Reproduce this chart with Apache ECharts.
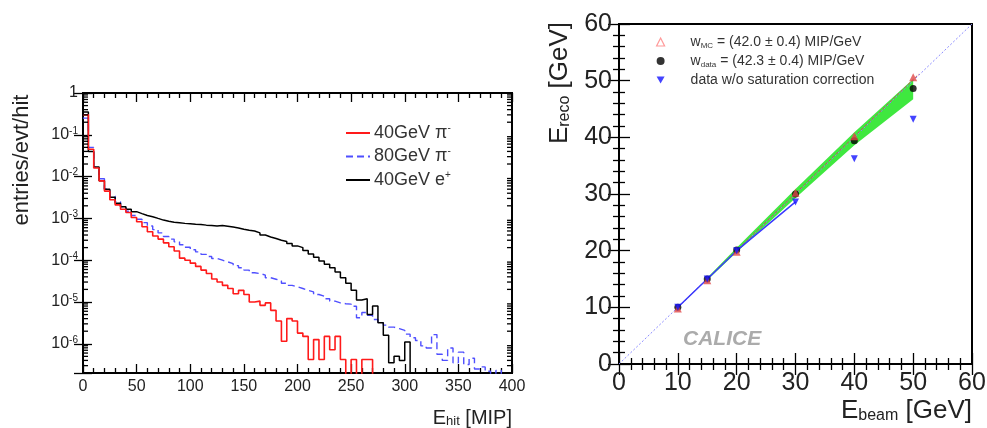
<!DOCTYPE html>
<html><head><meta charset="utf-8">
<script src="https://cdn.jsdelivr.net/npm/echarts@6/dist/echarts.min.js"></script>
<style>html,body{margin:0;padding:0;background:#fff}#c{width:987px;height:428px}</style>
</head><body><div id="c"></div>
<script>
// ---------- Left panel: hit energy spectra (entries/evt/hit), 5-MIP bins starting at 0 ----------
const BIN_WIDTH = 5;
const X_MAX = 400;
const piMinus40 = [
  0.3,0.045,0.016,0.0079,0.0045,0.0028,0.0021,0.00166,0.00138,0.00105,
  0.00083,0.00063,0.00048,0.00038,0.00032,0.00026,0.00021,0.000166,0.000112,0.0001,
  0.000085,0.000071,0.000058,0.000048,0.0000355,0.00003,0.000025,0.000021,0.0000158,0.000019,
  0.0000151,0.00001,0.0000105,0.0000083,0.0000095,0.0000063,0.0000035,1.15e-6,0.000004,0.0000035,
  1.8e-6,1.5e-6,4.2e-7,1.26e-6,4.2e-7,1.5e-6,7.2e-7,1.5e-6,4.2e-7,0,
  4.2e-7,0,4.2e-7,4.2e-7,0,0,0,0,0,0,
  0,0,0,0,0,0,0,0,0,0,
  0,0,0,0,0,0,0,0,0,0];
const piMinus80 = [
  0.25,0.05,0.0166,0.0089,0.005,0.0034,0.0025,0.0019,0.00148,0.00117,
  0.00095,0.00079,0.00066,0.00054,0.00045,0.00037,0.00032,0.000275,0.000234,0.000204,
  0.000178,0.000158,0.000138,0.000123,0.00011,0.0001,0.000091,0.000083,0.000074,0.000066,
  0.000058,0.00005,0.000048,0.000044,0.000038,0.000035,0.000032,0.000028,0.000025,0.000023,
  0.000021,0.000019,0.0000174,0.0000151,0.0000138,0.000012,0.0000105,0.0000095,0.0000091,0.0000089,
  0.0000079,0.0000042,0.0000056,0.0000048,0.0000038,0.0000032,0.0000028,0.0000025,0.0000023,0.0000021,
  1.7e-6,1.4e-6,1.2e-6,8.9e-7,7.9e-7,1.66e-6,5.6e-7,4e-7,7.9e-7,3.5e-7,
  6.3e-7,3.2e-7,4.5e-7,2.5e-7,2.8e-7,2.2e-7,0,2.3e-7,0,0];
const ePlus40 = [
  0.35,0.04,0.017,0.008,0.005,0.0032,0.0023,0.0019,0.00166,0.00145,
  0.0013,0.00117,0.0011,0.001,0.00091,0.00085,0.00081,0.00079,0.00076,0.00074,
  0.00072,0.00071,0.00069,0.00068,0.00066,0.00068,0.00065,0.00062,0.00059,0.00055,
  0.00052,0.0005,0.00045,0.0004,0.00036,0.00033,0.0003,0.00028,0.00025,0.00022,
  0.0002,0.00017,0.00014,0.000117,0.000095,0.00008,0.000066,0.000052,0.000038,0.000028,
  0.000019,0.0000112,0.000012,0.000005,0.000008,0.0000032,0.0000016,3.5e-7,5e-7,4e-7,
  1.1e-6,0,0,0,0,0,0,0,0,0,
  0,0,0,0,0,0,0,0,0,0];
const yLogMin = 2e-7, yLogMax = 1;

// ---------- Right panel: linearity ----------
const beamE     = [10, 15, 20, 30, 40, 50];
const recoMC    = [9.8, 14.8, 19.8, 30.2, 40.2, 50.6];
const recoData  = [10.0, 15.0, 20.1, 30.0, 39.4, 48.6];
const recoNoSat = [10.0, 15.0, 20.0, 28.6, 36.2, 43.2];
const bandE     = [15, 20, 30, 40, 50];
const bandUpper = [15.2, 20.5, 30.9, 40.9, 50.3];
const bandLower = [14.8, 19.7, 29.3, 38.6, 46.7];
const diagE = [0, 60], diagY = [0, 60];
const mcFitE = [10, 51], mcFitY = [10, 51.2];
const noSatFitE = [10, 15, 20, 30], noSatFitY = [10.0, 15.0, 20.0, 28.6];

const FONT = '"Liberation Sans", Arial, sans-serif';
const TINY = 1e-9; // stands for an empty bin (drawn below the log axis floor, clipped)

function histData(vals){
  const d = vals.map((v,i)=>[i*BIN_WIDTH, v>0?v:TINY]);
  d.push([X_MAX, d[d.length-1][1]]);
  return d;
}
const logMinorTicks = [];
for (let e=-7; e<0; e++) for (let m=2; m<=9; m++){ const v=m*Math.pow(10,e); if (v>yLogMin && v<yLogMax) logMinorTicks.push([0,v]); }

const chart = echarts.init(document.getElementById('c'), null, {renderer:'canvas'});
const tickStyle = {color:'#000', width:1.3};
const axisBase = (opt)=>Object.assign({
  type:'value', axisLine:{show:false}, splitLine:{show:false},
  axisTick:{show:true, inside:true, length:9, lineStyle:tickStyle},
  minorTick:{show:true, splitNumber:5, length:5, lineStyle:tickStyle},
  axisLabel:{show:false}
}, opt);
const rTick = {show:true, inside:true, length:11, lineStyle:tickStyle};
const rMinor = {show:true, splitNumber:5, length:6, lineStyle:tickStyle};

const leftLabel = {show:true, color:'#222', fontFamily:FONT, fontSize:16, margin:6};
const rightLabel = {show:true, color:'#222', fontFamily:FONT, fontSize:25, margin:7};

const option = {
  backgroundColor:'#fff',
  animation:false,
  grid:[
    {left:83, top:93, width:429, height:280, show:true, borderColor:'#000', borderWidth:2, backgroundColor:'transparent', containLabel:false, outerBoundsMode:'none'},
    {left:619, top:24, width:353, height:340, show:true, borderColor:'#000', borderWidth:2, backgroundColor:'transparent', containLabel:false, outerBoundsMode:'none'}
  ],
  xAxis:[
    axisBase({gridIndex:0, position:'bottom', min:0, max:X_MAX, interval:50, axisLabel:leftLabel}),
    axisBase({gridIndex:0, position:'top', min:0, max:X_MAX, interval:50}),
    axisBase({gridIndex:1, position:'bottom', min:0, max:60, interval:10, axisTick:rTick, minorTick:rMinor, axisLabel:rightLabel}),
    axisBase({gridIndex:1, position:'top', min:0, max:60, interval:10, axisTick:rTick, minorTick:rMinor})
  ],
  yAxis:[
    {type:'log', logBase:10, gridIndex:0, position:'left', min:yLogMin, max:yLogMax, splitNumber:7,
      axisLine:{show:false}, splitLine:{show:false},
      axisTick:{show:true, inside:true, length:9, lineStyle:tickStyle}, minorTick:{show:false},
      axisLabel:{show:true, color:'#222', fontFamily:FONT, fontSize:16, margin:5,
        formatter:(v)=>{ const l=Math.log10(v), e=Math.round(l); if (Math.abs(l-e)>0.01) return ''; return e===0?'{b|1}':'{b|10}{sup|'+e+'}'; },
        rich:{b:{fontSize:16, fontFamily:FONT, color:'#222', lineHeight:18},
              sup:{fontSize:10, fontFamily:FONT, color:'#222', verticalAlign:'top', lineHeight:8}}}},
    {type:'log', logBase:10, gridIndex:0, position:'right', min:yLogMin, max:yLogMax, splitNumber:7,
      axisLine:{show:false}, splitLine:{show:false},
      axisTick:{show:true, inside:true, length:9, lineStyle:tickStyle}, minorTick:{show:false}, axisLabel:{show:false}},
    axisBase({gridIndex:1, position:'left', min:0, max:60, interval:10, axisTick:rTick, minorTick:rMinor, axisLabel:rightLabel}),
    axisBase({gridIndex:1, position:'right', min:0, max:60, interval:10, axisTick:rTick, minorTick:rMinor})
  ],
  legend:[
    {left:345, top:123, padding:0, orient:'vertical', itemWidth:24, itemHeight:10, itemGap:3.5,
      itemStyle:{opacity:0},
      data:['pi40','pi80','e40'],
      textStyle:{fontFamily:FONT, fontSize:18, color:'#333', lineHeight:20, padding:[0,0,0,-1],
        rich:{sup:{fontFamily:FONT, fontSize:10, color:'#333', verticalAlign:'top', lineHeight:10}}},
      formatter:(n)=>({pi40:'40GeV π{sup|-}', pi80:'80GeV π{sup|-}', e40:'40GeV e{sup|+}'})[n]},
    {left:656, top:34, padding:0, orient:'vertical', itemWidth:8, itemHeight:8, itemGap:3,
      data:[
        {name:'mc', icon:'triangle', itemStyle:{color:'#fff', borderColor:'#ff8080', borderWidth:1.2}},
        {name:'data', icon:'circle'},
        {name:'nosat', icon:'path://M0,0 L10,0 L5,9 Z'}],
      textStyle:{fontFamily:FONT, fontSize:14, color:'#333', lineHeight:16, padding:[0,0,0,21],
        rich:{sub:{fontFamily:FONT, fontSize:8, color:'#333', verticalAlign:'bottom', lineHeight:9}}},
      formatter:(n)=>({mc:'w{sub|MC} = (42.0 ± 0.4) MIP/GeV', data:'w{sub|data} = (42.3 ± 0.4) MIP/GeV', nosat:'data w/o saturation correction'})[n]}
  ],
  graphic:[
    {type:'text', x:22, y:160, rotation:Math.PI/2, style:{text:'entries/evt/hit', font:'22px '+FONT, fill:'#222', align:'center', verticalAlign:'middle'}},
    {type:'text', x:512, y:418, style:{text:'E{s|hit} [MIP]', font:'20px '+FONT, fill:'#222', align:'right', verticalAlign:'middle',
      rich:{s:{font:'13px '+FONT, fill:'#222', verticalAlign:'bottom', lineHeight:12}}}},
    {type:'text', x:560, y:83, rotation:Math.PI/2, style:{text:'E{s|reco} [GeV]', font:'26px '+FONT, fill:'#222', align:'center', verticalAlign:'middle',
      rich:{s:{font:'16px '+FONT, fill:'#222', verticalAlign:'bottom', lineHeight:14}}}},
    {type:'text', x:972, y:411, style:{text:'E{s|beam} [GeV]', font:'26px '+FONT, fill:'#222', align:'right', verticalAlign:'middle',
      rich:{s:{font:'16px '+FONT, fill:'#222', verticalAlign:'bottom', lineHeight:14}}}},
    {type:'text', x:683, y:339, style:{text:'CALICE', font:'italic bold 21px '+FONT, fill:'#ababab', align:'left', verticalAlign:'middle'}}
  ],
  series:[
    {type:'custom', name:'logminor', xAxisIndex:0, yAxisIndex:0, silent:true, clip:false, z:5,
      data:logMinorTicks,
      renderItem:(params, api)=>{
        const v = api.value(1);
        const a = api.coord([0, v]), b = api.coord([X_MAX, v]);
        return {type:'group', children:[
          {type:'line', shape:{x1:a[0], y1:a[1], x2:a[0]+5, y2:a[1]}, style:{stroke:'#000', lineWidth:1.3}},
          {type:'line', shape:{x1:b[0], y1:b[1], x2:b[0]-5, y2:b[1]}, style:{stroke:'#000', lineWidth:1.3}}]};
      }},
    {type:'line', name:'pi80', xAxisIndex:0, yAxisIndex:0, step:'end', showSymbol:false, symbol:'none',
      data:histData(piMinus80), lineStyle:{color:'#4f4fff', width:1.4, type:[7,4]}, itemStyle:{color:'#4f4fff'}},
    {type:'line', name:'e40', xAxisIndex:0, yAxisIndex:0, step:'end', showSymbol:false, symbol:'none',
      data:histData(ePlus40), lineStyle:{color:'#000', width:1.5}, itemStyle:{color:'#000'}},
    {type:'line', name:'pi40', xAxisIndex:0, yAxisIndex:0, step:'end', showSymbol:false, symbol:'none',
      data:histData(piMinus40), lineStyle:{color:'#ff1a1a', width:1.6}, itemStyle:{color:'#ff1a1a'}},

    {type:'custom', name:'band', xAxisIndex:2, yAxisIndex:2, silent:true, z:1,
      data:bandE.map((e,i)=>[e, bandLower[i], bandUpper[i]]),
      renderItem:(params, api)=>{
        if (params.dataIndex!==0) return null;
        const pts=[];
        for (let i=0;i<bandE.length;i++) pts.push(api.coord([bandE[i], bandUpper[i]]));
        for (let i=bandE.length-1;i>=0;i--) pts.push(api.coord([bandE[i], bandLower[i]]));
        return {type:'polygon', shape:{points:pts}, style:{fill:'#3fe83f'}};
      }},
    {type:'line', name:'diag', xAxisIndex:2, yAxisIndex:2, showSymbol:false, symbol:'none', z:2,
      data:diagE.map((e,i)=>[e,diagY[i]]), lineStyle:{color:'#8a8aff', width:1, type:[2,2]}},
    {type:'line', name:'mcfit', xAxisIndex:2, yAxisIndex:2, showSymbol:false, symbol:'none', z:3,
      data:mcFitE.map((e,i)=>[e,mcFitY[i]]), lineStyle:{color:'#d05050', width:1, type:[3,2]}},
    {type:'line', name:'nosatfit', xAxisIndex:2, yAxisIndex:2, showSymbol:false, symbol:'none', z:3,
      data:noSatFitE.map((e,i)=>[e,noSatFitY[i]]), lineStyle:{color:'#3a3aff', width:1.5}},
    {type:'scatter', name:'data', xAxisIndex:2, yAxisIndex:2, symbol:'circle', symbolSize:7, z:4,
      data:beamE.map((e,i)=>[e,recoData[i]]), itemStyle:{color:'#000'}},
    {type:'scatter', name:'mc', xAxisIndex:2, yAxisIndex:2, symbol:'triangle', symbolSize:8, z:5,
      data:beamE.map((e,i)=>[e,recoMC[i]]), itemStyle:{color:'#e04848'}},
    {type:'scatter', name:'nosat', xAxisIndex:2, yAxisIndex:2, symbol:'triangle', symbolRotate:180, symbolSize:7, z:6,
      data:beamE.map((e,i)=>[e,recoNoSat[i]]), itemStyle:{color:'#1414ff'}}
  ]
};
chart.setOption(option);
</script>
</body></html>
